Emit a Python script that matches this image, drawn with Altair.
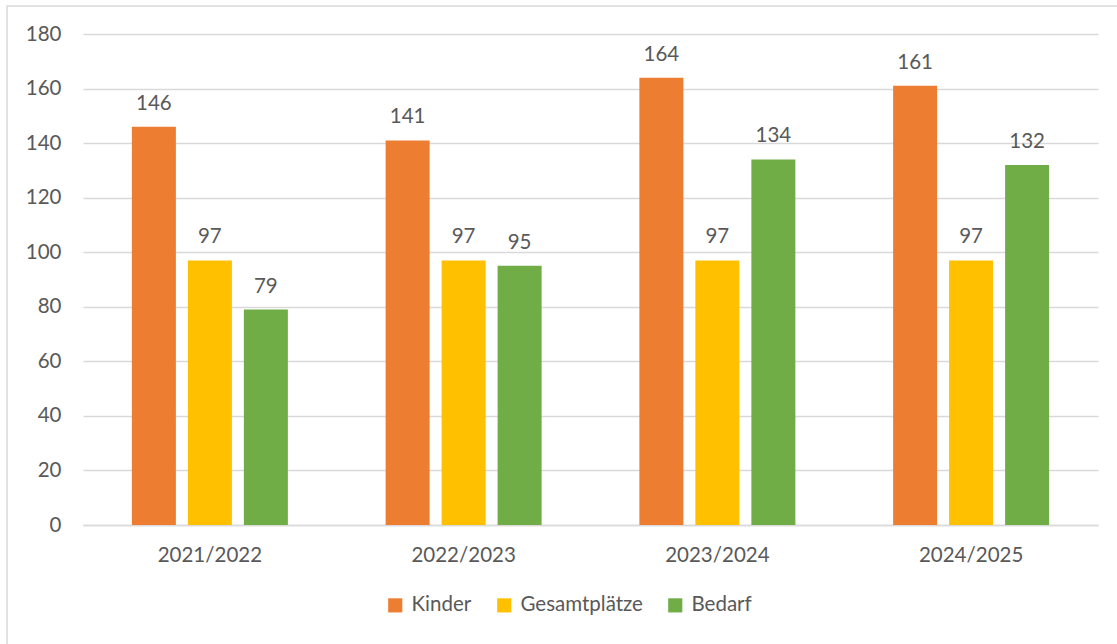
import altair as alt
import pandas as pd

years = ["2021/2022", "2022/2023", "2023/2024", "2024/2025"]
series = ["Kinder", "Gesamtplätze", "Bedarf"]
kinder = [146, 141, 164, 161]
gesamtplaetze = [97, 97, 97, 97]
bedarf = [79, 95, 134, 132]
colors = ["#ED7D31", "#FFC000", "#70AD47"]

rows = []
for i, y in enumerate(years):
    for name, vals in zip(series, [kinder, gesamtplaetze, bedarf]):
        rows.append({"Jahr": y, "Serie": name, "Wert": vals[i]})
df = pd.DataFrame(rows)

FONT = "Lato"
FS = 20.5
TXT = "#595959"

x_enc = alt.X(
    "Jahr:N",
    sort=years,
    title=None,
    scale=alt.Scale(paddingInner=0.338, paddingOuter=0.169),
    axis=alt.Axis(
        labelAngle=0,
        labelFontSize=FS,
        labelColor=TXT,
        labelFont=FONT,
        labelPadding=20,
        ticks=False,
        domainColor="#D9D9D9",
        domainWidth=1.5,
    ),
)
off_enc = alt.XOffset(
    "Serie:N",
    sort=series,
    scale=alt.Scale(paddingInner=0.214, paddingOuter=0.107),
)
y_enc = alt.Y(
    "Wert:Q",
    title=None,
    scale=alt.Scale(domain=[0, 180], nice=False),
    axis=alt.Axis(
        values=list(range(0, 181, 20)),
        labelFontSize=FS,
        labelColor=TXT,
        labelFont=FONT,
        labelPadding=22,
        ticks=False,
        domain=False,
        gridColor="#D9D9D9",
        gridWidth=1.5,
    ),
)

bars = alt.Chart(df).mark_bar().encode(
    x=x_enc,
    xOffset=off_enc,
    y=y_enc,
    color=alt.Color(
        "Serie:N",
        sort=series,
        scale=alt.Scale(domain=series, range=colors),
        legend=alt.Legend(
            title=None,
            orient="none",
            legendX=302,
            legendY=561,
            direction="horizontal",
            symbolType="square",
            symbolSize=200,
            symbolStrokeWidth=0,
            labelFontSize=FS,
            labelColor=TXT,
            labelFont=FONT,
            columnPadding=22,
            labelOffset=6,
        ),
    ),
)

labels = alt.Chart(df).mark_text(
    baseline="alphabetic", dy=-17, fontSize=FS, font=FONT, color=TXT
).encode(
    x=alt.X("Jahr:N", sort=years),
    xOffset=alt.XOffset("Serie:N", sort=series),
    y="Wert:Q",
    text="Wert:Q",
)

frame = alt.Chart(pd.DataFrame({"k": [0]})).mark_rect(
    fill=None, stroke="#D9D9D9", strokeWidth=1.5
).encode(
    x=alt.value(-76), x2=alt.value(1060),
    y=alt.value(-28), y2=alt.value(640),
)

chart = alt.layer(frame, bars, labels).properties(
    width=1015,
    height=491,
    autosize=alt.AutoSizeParams(type="none"),
    padding={"left": 83, "top": 34, "right": 19, "bottom": 119},
    background="white",
).configure_view(stroke=None)

chart.save("out.html", embed_options={"renderer": "svg", "actions": False})
